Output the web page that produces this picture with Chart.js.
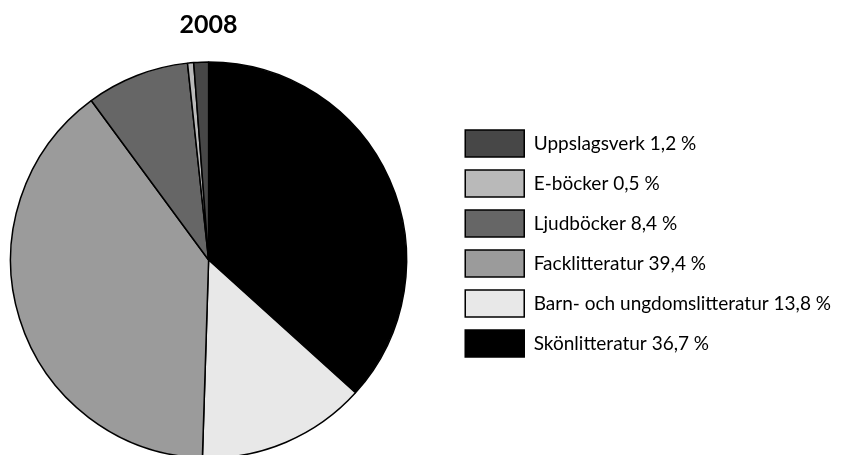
<!DOCTYPE html>
<html>
<head>
<meta charset="utf-8">
<script src="https://cdn.jsdelivr.net/npm/chart.js@4.4.1/dist/chart.umd.min.js"></script>
<style>
  html, body { margin: 0; padding: 0; background: #fff; overflow: hidden; }
  #wrap { width: 851px; height: 455px; overflow: hidden; }
  #pieChart { margin-left: -35px; display: block; }
</style>
</head>
<body>
<div id="wrap"><canvas id="pieChart" width="886" height="455"></canvas></div>
<script>
const year = '2008';
const categories = ['Skönlitteratur', 'Barn- och ungdomslitteratur', 'Facklitteratur', 'Ljudböcker', 'E-böcker', 'Uppslagsverk'];
const shares = [36.7, 13.8, 39.4, 8.4, 0.5, 1.2];
const colors = ['#000000', '#e8e8e8', '#9b9b9b', '#666666', '#b9b9b9', '#474747'];

const labels = categories.map(function (name, i) {
  return name + ' ' + shares[i].toFixed(1).replace('.', ',') + ' %';
});

Chart.defaults.font.family = 'Lato, "Open Sans", sans-serif';
Chart.defaults.color = '#000';

var ctx = document.getElementById('pieChart');
const pieChart = new Chart(ctx, {
  type: 'pie',
  data: {
    labels: labels,
    datasets: [{
      data: shares,
      backgroundColor: colors,
      borderColor: '#000',
      borderWidth: 1.5,
      radius: 198,
      clip: false
    }]
  },
  options: {
    responsive: false,
    animation: false,
    layout: {
      padding: { left: 0, right: 10, top: 32, bottom: 0 }
    },
    plugins: {
      title: {
        display: true,
        text: year,
        fullSize: false,
        color: '#000',
        font: { size: 25, weight: 'bold' },
        padding: { top: -22, bottom: 25 }
      },
      legend: {
        position: 'right',
        reverse: true,
        labels: {
          boxWidth: 59,
          boxHeight: 27,
          padding: 13,
          color: '#000',
          font: { size: 19 }
        }
      },
      tooltip: { enabled: false }
    }
  }
});
</script>
</body>
</html>
